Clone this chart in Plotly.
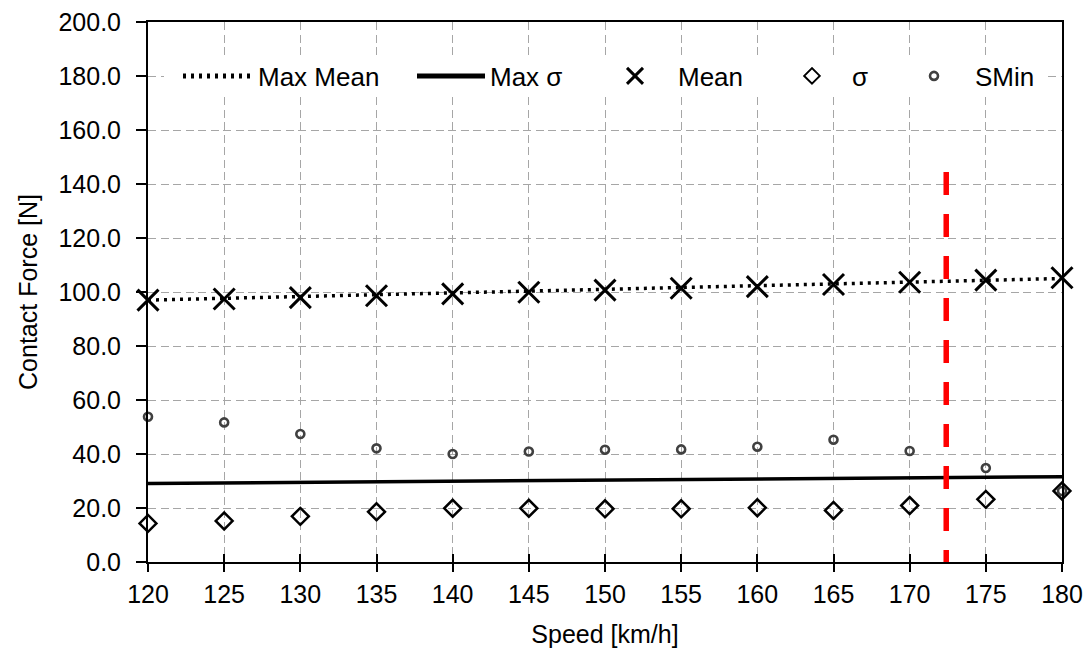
import plotly.graph_objects as go

speed = [120, 125, 130, 135, 140, 145, 150, 155, 160, 165, 170, 175, 180]
mean_force = [97.0, 97.4, 97.9, 98.6, 99.3, 99.9, 100.7, 101.4, 102.0, 102.8, 103.6, 104.4, 105.3]
sigma_force = [14.3, 15.2, 16.9, 18.6, 19.9, 19.9, 19.7, 19.7, 20.1, 19.1, 20.9, 23.2, 26.3]
smin_force = [53.8, 51.7, 47.4, 42.1, 40.0, 40.9, 41.6, 41.7, 42.7, 45.3, 41.1, 34.8, 26.3]
max_mean_x = [120, 180]
max_mean_y = [97.0, 105.0]
max_sigma_x = [120, 180]
max_sigma_y = [29.1, 31.6]
limit_speed = 172.4
limit_y = [144.4, 0.0]
y_ticks = [0, 20, 40, 60, 80, 100, 120, 140, 160, 180, 200]
x_ticks = [120, 125, 130, 135, 140, 145, 150, 155, 160, 165, 170, 175, 180]

FONT = "Liberation Sans, Arial, sans-serif"
W, H = 1089, 648
ML, MR, MT, MB = 148, 27, 22, 86
pw = W - ML - MR
ph = H - MT - MB

def px_x(p):
    return (p - ML) / pw

def px_y(p):
    return (H - MB - p) / ph

fig = go.Figure()

fig.add_trace(go.Scatter(
    x=max_mean_x, y=max_mean_y, mode="lines", name="Max Mean",
    line=dict(color="black", width=3.5, dash="3px,5px"), legend="legend"))
fig.add_trace(go.Scatter(
    x=max_sigma_x, y=max_sigma_y, mode="lines", name="Max σ",
    line=dict(color="black", width=3.5), legend="legend2"))
fig.add_trace(go.Scatter(
    x=[limit_speed, limit_speed], y=limit_y, mode="lines", showlegend=False,
    line=dict(color="#ff0000", width=5.5, dash="23px,19px"), hoverinfo="skip"))
fig.add_trace(go.Scatter(
    x=speed, y=mean_force, mode="markers", name="Mean", cliponaxis=False,
    marker=dict(symbol="x-thin", size=21, color="black",
                line=dict(color="black", width=3)), legend="legend3"))
fig.add_trace(go.Scatter(
    x=speed, y=sigma_force, mode="markers", name="σ", cliponaxis=False,
    marker=dict(symbol="diamond-open", size=13, color="black",
                line=dict(color="black", width=2.5)), legend="legend4"))
fig.add_trace(go.Scatter(
    x=speed, y=smin_force, mode="markers", name="SMin", cliponaxis=False,
    marker=dict(symbol="circle-open", size=8, color="#404040",
                line=dict(color="#404040", width=2.6)), legend="legend5"))
# dummy trace to draw crossing ticks on the x axis
fig.add_trace(go.Scatter(x=speed, y=[None] * len(speed), xaxis="x2",
                         showlegend=False, hoverinfo="skip", mode="markers"))

legend_font = dict(family=FONT, size=26, color="black")
ly = px_y(76)

def leg(x0, w, sizing="constant"):
    return dict(x=px_x(x0), y=ly, xanchor="left", yanchor="middle",
                orientation="h", bgcolor="rgba(0,0,0,0)", borderwidth=0,
                font=legend_font, itemwidth=w, itemsizing=sizing)

fig.update_layout(
    width=W, height=H,
    margin=dict(l=ML, r=MR, t=MT, b=MB, pad=0, autoexpand=False),
    paper_bgcolor="white", plot_bgcolor="white",
    font=dict(family=FONT, size=25, color="black"),
    showlegend=True,
    legend=leg(178, 70),
    legend2=leg(412, 68),
    legend3=leg(592, 76, "trace"),
    legend4=leg(772, 70),
    legend5=leg(893, 72, "trace"),
    xaxis=dict(
        range=[120, 180], tickvals=x_ticks, ticktext=[str(v) for v in x_ticks],
        showgrid=True, gridcolor="#a6a6a6", gridwidth=1, griddash="8px,4.5px",
        showline=True, linecolor="black", linewidth=2, mirror=True,
        ticks="outside", ticklen=8, tickwidth=2, tickcolor="black",
        ticklabelstandoff=1, automargin=False,
        tickfont=dict(family=FONT, size=25, color="black"),
        title=dict(text="Speed [km/h]", font=dict(family=FONT, size=25, color="black"),
                   standoff=19),
        zeroline=False),
    xaxis2=dict(
        range=[120, 180], overlaying="x", anchor="y", side="bottom",
        tickvals=x_ticks, showticklabels=False, showgrid=False, showline=False,
        ticks="inside", ticklen=8, tickwidth=2, tickcolor="black", zeroline=False,
        automargin=False),
    yaxis=dict(
        range=[0, 200], tickvals=y_ticks, ticktext=[f"{v:.1f}" for v in y_ticks],
        showgrid=True, gridcolor="#a6a6a6", gridwidth=1, griddash="8px,4.5px",
        showline=True, linecolor="black", linewidth=2, mirror=True,
        ticks="outside", ticklen=10, tickwidth=2, tickcolor="black",
        ticklabelstandoff=10, automargin=False,
        tickfont=dict(family=FONT, size=25, color="black"),
        title=dict(text="Contact Force [N]", font=dict(family=FONT, size=25, color="black"),
                   standoff=14),
        zeroline=False),
    shapes=[dict(type="rect", xref="paper", yref="paper",
                 x0=px_x(164), x1=px_x(1048), y0=px_y(96), y1=px_y(56),
                 fillcolor="white", line=dict(width=0), layer="above")],
)

fig.write_html("out.html")
